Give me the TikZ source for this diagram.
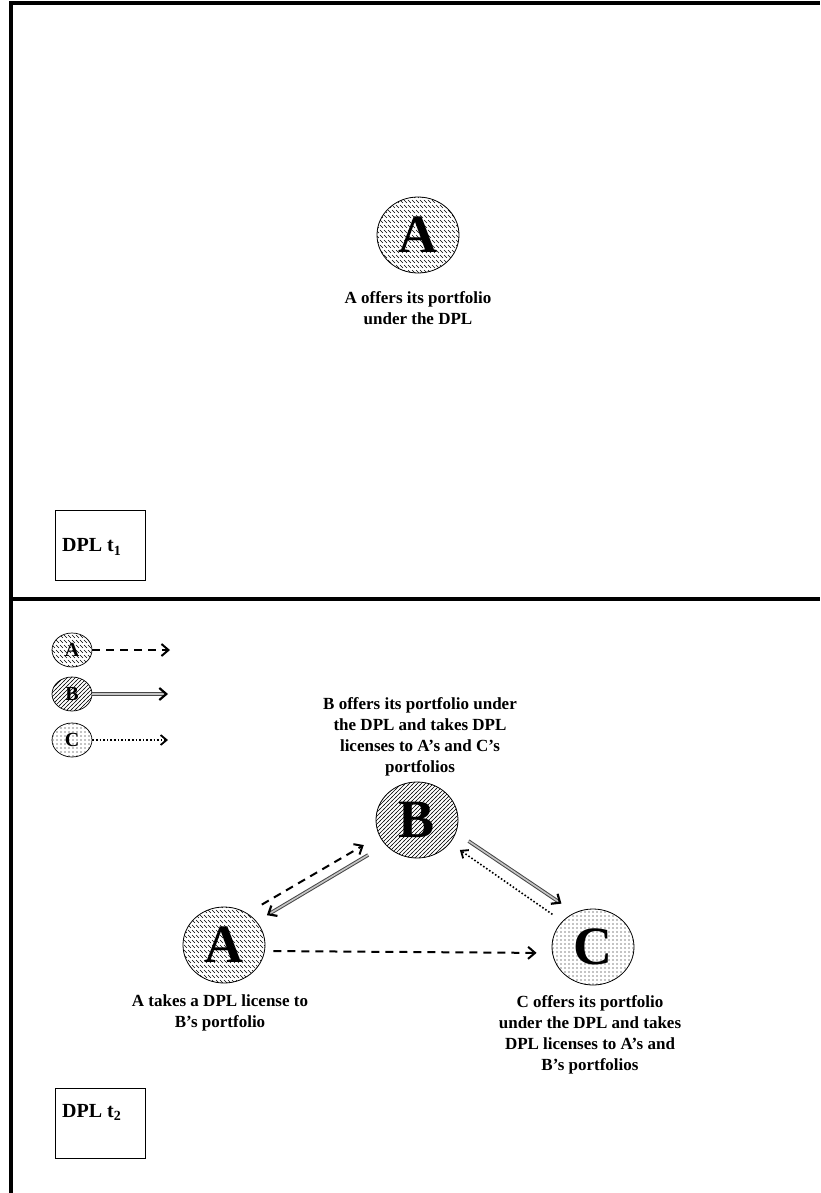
\documentclass[tikz,border=0pt]{standalone}
\usepackage{fontspec}
\setmainfont{Liberation Serif}
\usetikzlibrary{shapes.geometric,patterns,arrows.meta,calc}
\pgfdeclarepatternformonly{shortnw}{\pgfqpoint{-1pt}{-1pt}}{\pgfqpoint{5pt}{6pt}}{\pgfqpoint{4pt}{5pt}}{%
  \pgfsetlinewidth{0.6pt}%
  \pgfpathmoveto{\pgfqpoint{0pt}{3pt}}\pgfpathlineto{\pgfqpoint{3pt}{0pt}}\pgfusepath{stroke}}
\pgfdeclarepatternformonly{denselines}{\pgfqpoint{-1pt}{-1pt}}{\pgfqpoint{5pt}{5pt}}{\pgfqpoint{4pt}{4pt}}{%
  \pgfsetlinewidth{0.65pt}%
  \pgfpathmoveto{\pgfqpoint{-0.5pt}{-0.5pt}}\pgfpathlineto{\pgfqpoint{4.5pt}{4.5pt}}\pgfusepath{stroke}}
\pgfdeclarepatternformonly{sparsedots}{\pgfqpoint{-1pt}{-1pt}}{\pgfqpoint{5pt}{5pt}}{\pgfqpoint{4pt}{4pt}}{%
  \pgfpathcircle{\pgfqpoint{1pt}{1pt}}{0.55pt}\pgfusepath{fill}}
\tikzset{
    firm/.style = {ellipse, draw, line width=0.8pt, minimum width=82pt, minimum height=76pt, inner sep=0pt, font=\bfseries\fontsize{54}{54}\selectfont},
    legfirm/.style = {ellipse, draw, line width=0.7pt, minimum width=40pt, minimum height=34pt, inner sep=0pt, font=\bfseries\fontsize{20}{20}\selectfont},
    firma/.style = {pattern=shortnw},
    firmb/.style = {pattern=denselines},
    firmc/.style = {pattern=sparsedots},
    desc/.style = {align=center, font=\bfseries\fontsize{17}{21}\selectfont},
    stagebox/.style = {rectangle, draw, line width=0.8pt, anchor=north west, minimum width=90pt, minimum height=70pt},
    stagetext/.style = {anchor=west, inner sep=0pt, font=\bfseries\fontsize{20}{20}\selectfont},
    dasharrow/.style = {line width=2pt, dash pattern=on 8pt off 6pt, -{Straight Barb[length=7pt, width=12pt, line width=2pt]}},
    dotarrow/.style = {line width=1.6pt, dash pattern=on 1.6pt off 2pt, -{Straight Barb[length=6pt, width=10pt, line width=1.8pt]}},
    dblarrow/.style = {draw=gray!55!black, double=gray!45, double distance=1.6pt, line width=1pt, -{Straight Barb[length=7pt, width=12pt, black, line width=2.2pt]}}
}
\begin{document}
\begin{tikzpicture}[x=1pt, y=1pt]
\useasboundingbox (0,0) rectangle (820,-1193);
% frame
\draw[line width=4pt] (11,-1193) -- (11,-3) -- (820,-3);
\draw[line width=4pt] (9,-599) -- (820,-599);

% stage t1
\node (a1) [firm, firma] at (418,-235) {A};
\node (a1text) [desc] at (418,-308) {A offers its portfolio\\under the DPL};
\node (t1) [stagebox] at (55,-510) {};
\node (t1text) [stagetext] at ($(t1.north west)+(7,-37)$) {DPL t\textsubscript{1}};

% legend
\node (lega) [legfirm, firma] at (72,-650) {A};
\node (legb) [legfirm, firmb] at (72,-694) {B};
\node (legc) [legfirm, firmc] at (72,-740) {C};
\coordinate (enda) at (170,-650);
\coordinate (endb) at (168,-694);
\coordinate (endc) at (168,-740);
\draw [dasharrow] (lega) -- (enda);
\draw [dblarrow] (legb) -- (endb);
\draw [dotarrow] (legc) -- (endc);

% stage t2
\node (b) [firm, firmb] at (417,-820) {B};
\node (a) [firm, firma] at (224,-945) {A};
\node (c) [firm, firmc] at (593,-947) {C};
\node (btext) [desc] at (420,-737) {B offers its portfolio under\\the DPL and takes DPL\\licenses to A’s and C’s\\portfolios};
\node (atext) [desc] at (220,-1013) {A takes a DPL license to\\B’s portfolio};
\node (ctext) [desc] at (590,-1035) {C offers its portfolio\\under the DPL and takes\\DPL licenses to A’s and\\B’s portfolios};

\draw [dasharrow, shorten <=17pt, shorten >=18pt] (a.54) -- (b.203);
\draw [dblarrow, shorten <=20pt, shorten >=12pt] (b.218) -- (a.36);
\draw [dasharrow, shorten <=8pt, shorten >=15pt] ([yshift=-6pt]a.east) -- ([yshift=-6pt]c.west);
\draw [dblarrow, shorten <=15pt, shorten >=16pt] (b.-18) -- (c.118);
\draw [dotarrow, shorten <=12pt, shorten >=12pt] (c.140) -- (b.-35);

\node (t2) [stagebox] at (55,-1088) {};
\node (t2text) [stagetext] at ($(t2.north west)+(7,-24)$) {DPL t\textsubscript{2}};
\end{tikzpicture}
\end{document}
